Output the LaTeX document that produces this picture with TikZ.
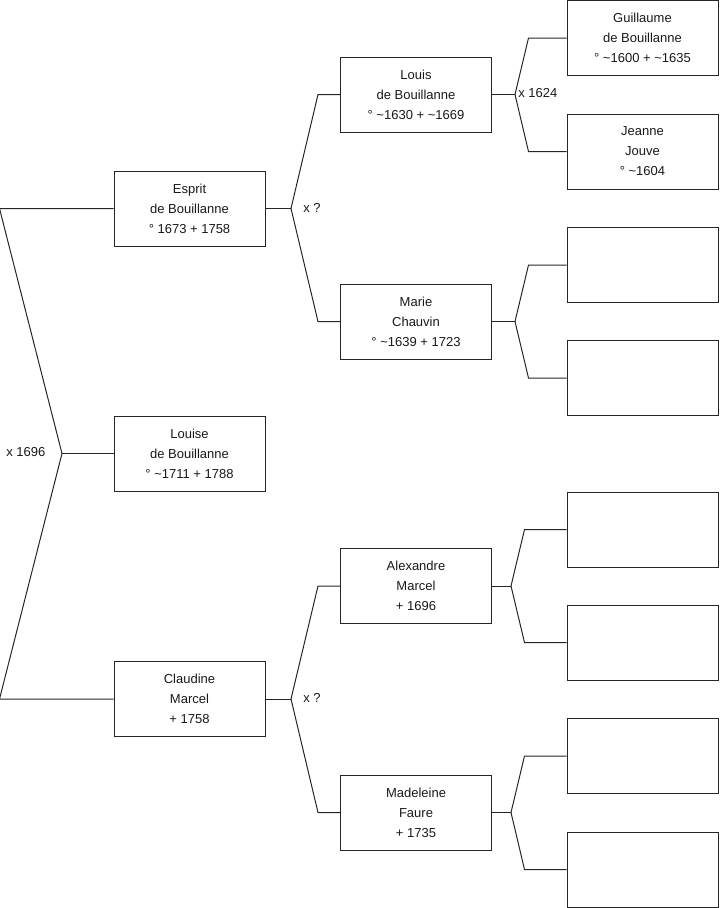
\documentclass[tikz,border=0pt]{standalone}
\usepackage{fontspec}
\setmainfont{Liberation Sans}
\usetikzlibrary{calc}
\begin{document}
\begin{tikzpicture}[x=0.75pt,y=-0.75pt,
  person/.style={draw=black!85,line width=0.75pt,minimum width=113.25pt,minimum height=56.25pt,inner sep=0pt,align=center,text=black!90,font=\fontsize{9.75pt}{15pt}\selectfont},
  link/.style={draw=black!85,line width=0.75pt},
  marr/.style={anchor=west,inner sep=0pt,text=black!90,font=\fontsize{9.75pt}{12pt}\selectfont}]
\useasboundingbox (0,0) rectangle (719,908);
% generation 1
\node[person] (esprit) at (189.5,208.5) {Esprit\\de Bouillanne\\° 1673 + 1758};
\node[person] (louise) at (189.5,453.5) {Louise\\de Bouillanne\\° \textasciitilde1711 + 1788};
\node[person] (claudine) at (189.5,699) {Claudine\\Marcel\\+ 1758};
% generation 2
\node[person] (louis) at (416,94.5) {Louis\\de Bouillanne\\° \textasciitilde1630 + \textasciitilde1669};
\node[person] (marie) at (416,321.5) {Marie\\Chauvin\\° \textasciitilde1639 + 1723};
\node[person] (alex) at (416,586) {Alexandre\\Marcel\\+ 1696};
\node[person] (madeleine) at (416,812.5) {Madeleine\\Faure\\+ 1735};
% generation 3
\node[person] (g1) at (642.5,38) {Guillaume\\de Bouillanne\\° \textasciitilde1600 + \textasciitilde1635};
\node[person] (g2) at (642.5,151.5) {Jeanne\\Jouve\\° \textasciitilde1604};
\node[person] (g3) at (642.5,265) {};
\node[person] (g4) at (642.5,378) {};
\node[person] (g5) at (642.5,529.5) {};
\node[person] (g6) at (642.5,642.5) {};
\node[person] (g7) at (642.5,756) {};
\node[person] (g8) at (642.5,869.5) {};
% junctions
\coordinate (j0) at (62,453.5);
\coordinate (j1) at (291,208.5);
\coordinate (j2) at (291,699);
\coordinate (j3) at (515,94.5);
\coordinate (j4) at (515,321.5);
\coordinate (j5) at (511,586);
\coordinate (j6) at (511,812.5);
% connectors
\draw[link] (esprit.west) -- ($(esprit.west)+(-114,0)$) -- (j0) -- ($(claudine.west)+(-114,0)$) -- (claudine.west);
\draw[link] (j0) -- (louise.west);
\draw[link] (esprit.east) -- (j1);
\draw[link] (j1) -- ($(louis.west)+(-22,0)$) -- (louis.west);
\draw[link] (j1) -- ($(marie.west)+(-22,0)$) -- (marie.west);
\draw[link] (claudine.east) -- (j2);
\draw[link] (j2) -- ($(alex.west)+(-22,0)$) -- (alex.west);
\draw[link] (j2) -- ($(madeleine.west)+(-22,0)$) -- (madeleine.west);
\draw[link] (louis.east) -- (j3);
\draw[link] (j3) -- ($(g1.west)+(-38,0)$) -- (g1.west);
\draw[link] (j3) -- ($(g2.west)+(-38,0)$) -- (g2.west);
\draw[link] (marie.east) -- (j4);
\draw[link] (j4) -- ($(g3.west)+(-38,0)$) -- (g3.west);
\draw[link] (j4) -- ($(g4.west)+(-38,0)$) -- (g4.west);
\draw[link] (alex.east) -- (j5);
\draw[link] (j5) -- ($(g5.west)+(-42,0)$) -- (g5.west);
\draw[link] (j5) -- ($(g6.west)+(-42,0)$) -- (g6.west);
\draw[link] (madeleine.east) -- (j6);
\draw[link] (j6) -- ($(g7.west)+(-42,0)$) -- (g7.west);
\draw[link] (j6) -- ($(g8.west)+(-42,0)$) -- (g8.west);
% marriage labels
\node[marr] (m0) at (6,452) {x 1696};
\node[marr] (m1) at (303,208) {x ?};
\node[marr] (m2) at (303,698) {x ?};
\node[marr] (m3) at (518,93) {x 1624};
\end{tikzpicture}
\end{document}
